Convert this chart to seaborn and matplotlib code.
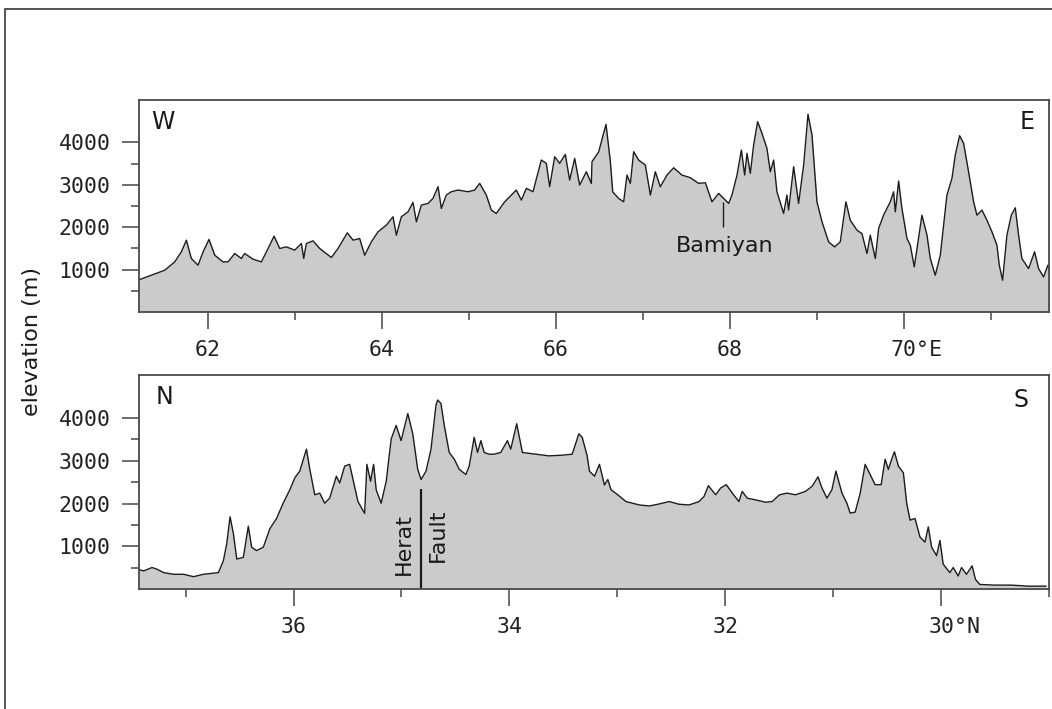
import matplotlib
matplotlib.use("Agg")
import matplotlib.pyplot as plt
import seaborn as sns
import pandas as pd

# W-E profile (longitude, elevation in m)
we_lon = [61.195, 61.349, 61.502, 61.617, 61.693, 61.751, 61.808, 61.885, 61.943, 62.011,
          62.077, 62.172, 62.230, 62.307, 62.383, 62.421, 62.517, 62.613, 62.690, 62.759,
          62.824, 62.900, 62.996, 63.073, 63.100, 63.130, 63.207, 63.284, 63.418, 63.494,
          63.601, 63.667, 63.743, 63.801, 63.877, 63.954, 64.050, 64.126, 64.165, 64.222,
          64.299, 64.356, 64.395, 64.452, 64.529, 64.586, 64.644, 64.682, 64.739, 64.797,
          64.874, 64.989, 65.065, 65.123, 65.199, 65.257, 65.314, 65.410, 65.544, 65.602,
          65.659, 65.736, 65.831, 65.889, 65.927, 65.985, 66.042, 66.107, 66.157, 66.215,
          66.272, 66.349, 66.406,
          66.414, 66.491, 66.575, 66.625, 66.652, 66.720, 66.778, 66.816, 66.855, 66.893,
          66.950, 67.027, 67.085, 67.142, 67.199, 67.276, 67.353, 67.448, 67.544, 67.640,
          67.717, 67.793, 67.870, 67.985, 68.023, 68.081, 68.131, 68.169, 68.196, 68.234,
          68.272, 68.318, 68.368, 68.425, 68.464, 68.502, 68.540, 68.617, 68.655, 68.674,
          68.732, 68.789, 68.847, 68.897, 68.943, 69.000, 69.058, 69.134, 69.203, 69.268,
          69.333, 69.383, 69.460, 69.517, 69.575, 69.613, 69.671, 69.709, 69.766, 69.843,
          69.881, 69.901, 69.939, 69.977, 70.035, 70.073, 70.119, 70.150, 70.207, 70.265,
          70.303, 70.360, 70.418, 70.494, 70.552, 70.590, 70.640, 70.686, 70.743, 70.801,
          70.839, 70.897, 70.954, 71.012, 71.069, 71.096, 71.134, 71.184, 71.234, 71.280,
          71.318, 71.356, 71.433, 71.502, 71.548, 71.605, 71.655, 71.682]
we_elev = [749, 867, 985, 1181, 1417, 1693, 1261, 1103, 1417, 1710,
           1339, 1181, 1181, 1379, 1261, 1379, 1245, 1181, 1497, 1788,
           1497, 1535, 1458, 1615, 1261, 1615, 1677, 1497, 1285, 1497,
           1866, 1693, 1732, 1339, 1654, 1890, 2048, 2244, 1811, 2244,
           2362, 2584, 2126, 2520, 2560, 2679, 2953, 2442, 2757, 2836,
           2875, 2836, 2875, 3033, 2757, 2402, 2324, 2598, 2875, 2638,
           2915, 2836, 3583, 3505, 2953, 3661, 3505, 3717, 3111, 3622,
           2993, 3307, 3033,
           3543, 3779, 4426, 3543, 2834, 2678, 2598, 3229, 3033, 3779,
           3583, 3465, 2757, 3307, 2953, 3229, 3401, 3229, 3166, 3033,
           3048, 2598, 2796, 2560, 2757, 3229, 3819, 3229, 3740, 3268,
           3937, 4488, 4213, 3858, 3307, 3583, 2834, 2324, 2757, 2403,
           3426, 2560, 3465, 4663, 4174, 2598, 2126, 1653, 1535, 1653,
           2598, 2165, 1929, 1850, 1378, 1810, 1260, 1968, 2283, 2598,
           2834, 2362, 3087, 2441, 1732, 1574, 1063, 1496, 2283, 1810,
           1260, 866, 1338, 2757, 3150, 3700, 4158, 3976, 3307, 2598,
           2283, 2402, 2165, 1889, 1574, 1102, 748, 1810, 2283, 2456,
           1810, 1260, 1023, 1417, 1023, 826, 1102, 944]

# N-S profile (latitude, elevation in m)
ns_lat = [37.450, 37.388, 37.311, 37.265, 37.203, 37.111, 37.019, 36.926, 36.834, 36.696,
          36.650, 36.619, 36.588, 36.557, 36.526, 36.465, 36.419, 36.388, 36.342, 36.280,
          36.219, 36.157, 36.096, 36.034, 35.988, 35.942, 35.880, 35.849, 35.803, 35.757,
          35.711, 35.665, 35.603, 35.572, 35.526, 35.480, 35.449, 35.403, 35.341, 35.320,
          35.286, 35.258, 35.234, 35.188, 35.141, 35.095, 35.049, 35.003, 34.941, 34.895,
          34.849, 34.818, 34.772, 34.726, 34.680, 34.664, 34.634, 34.603, 34.557, 34.510,
          34.464, 34.403, 34.372, 34.326, 34.295, 34.264, 34.233, 34.187, 34.141, 34.080,
          34.018, 33.987, 33.932, 33.879, 33.756, 33.633, 33.510, 33.418, 33.356, 33.325,
          33.279,
          33.258, 33.211, 33.165, 33.119, 33.088, 33.058, 32.996, 32.919, 32.796, 32.704,
          32.611, 32.519, 32.427, 32.334, 32.242, 32.196, 32.156, 32.088, 32.042, 31.990,
          31.934, 31.873, 31.842, 31.796, 31.719, 31.626, 31.565, 31.497, 31.426, 31.349,
          31.257, 31.195, 31.140, 31.103, 31.057, 31.011, 30.974, 30.918, 30.872, 30.842,
          30.795, 30.749, 30.703, 30.657, 30.611, 30.555, 30.518, 30.488, 30.457, 30.432,
          30.395, 30.349, 30.318, 30.287, 30.241, 30.195, 30.149, 30.118, 30.087, 30.041,
          30.010, 29.980, 29.918, 29.887, 29.841, 29.810, 29.764, 29.712, 29.681, 29.641,
          29.503, 29.349, 29.195, 29.026]
ns_elev = [466, 427, 506, 466, 387, 348, 348, 292, 348, 387,
           664, 1059, 1690, 1296, 704, 743, 1470, 980, 901, 980,
           1414, 1651, 2007, 2323, 2599, 2757, 3271, 2797, 2204, 2243,
           2007, 2125, 2638, 2480, 2875, 2915, 2560, 2046, 1770, 2915,
           2520, 2915, 2323, 2007, 2520, 3508, 3824, 3468, 4101, 3627,
           2797, 2560, 2757, 3271, 4298, 4417, 4338, 3824, 3192, 3034,
           2797, 2678, 2875, 3547, 3192, 3468, 3192, 3152, 3152, 3192,
           3468, 3271, 3863, 3192, 3152, 3113, 3129, 3152, 3627, 3547,
           3113,
           2757, 2638, 2915, 2433, 2560, 2323, 2204, 2046, 1967, 1943,
           1990, 2046, 1983, 1967, 2046, 2165, 2417, 2204, 2362, 2441,
           2243, 2046, 2283, 2125, 2086, 2030, 2046, 2204, 2243, 2204,
           2283, 2401, 2623, 2362, 2125, 2323, 2757, 2243, 2007, 1777,
           1800, 2243, 2915, 2678, 2440, 2440, 3034, 2797, 3034, 3208,
           2875, 2718, 2007, 1612, 1651, 1217, 1098, 1454, 980, 783,
           1138, 585, 387, 506, 308, 506, 348, 545, 229, 111,
           95, 95, 71, 71]

lon_ticks = [62, 64, 66, 68, 70]
lon_labels = ["62", "64", "66", "68", ""]
lat_ticks = [36, 34, 32, 30]
lat_labels = ["36", "34", "32", ""]
elev_ticks = [1000, 2000, 3000, 4000]

df_we = pd.DataFrame({"lon": we_lon, "elev": we_elev})
df_ns = pd.DataFrame({"lat": ns_lat, "elev": ns_elev})

sns.set_theme(style="ticks")
plt.rcParams["font.family"] = ["DejaVu Sans"]

fig = plt.figure(figsize=(10.52, 7.09), dpi=100)
ax1 = fig.add_axes([0.1317, 0.560, 0.8654, 0.299])
ax2 = fig.add_axes([0.1317, 0.169, 0.8654, 0.302])

fill_c = "#cbcbcb"
line_c = "#1c1c1c"
tick_font = {"family": "DejaVu Sans Mono", "size": 15.5}


def style_axis(ax):
    for s in ax.spines.values():
        s.set_color("#4a4a4a")
        s.set_linewidth(1.3)
    ax.tick_params(axis="both", which="major", direction="out", length=12, width=1.2,
                   color="#555555", pad=8, labelcolor="#222222")
    ax.tick_params(axis="both", which="minor", direction="out", length=6, width=1.2,
                   color="#555555")
    ax.set_yticks(elev_ticks)
    ax.set_yticks([500, 1500, 2500, 3500], minor=True)
    ax.set_yticklabels([str(v) for v in elev_ticks], fontdict=tick_font)
    ax.set_ylim(0, 5000)
    ax.set_xlabel("")
    ax.set_ylabel("")


# top: W-E
ax1.fill_between(df_we["lon"], 0, df_we["elev"], color=fill_c, lw=0)
sns.lineplot(data=df_we, x="lon", y="elev", ax=ax1, color=line_c, lw=1.0)
ax1.set_xlim(61.201, 71.667)
ax1.set_xticks(lon_ticks)
ax1.set_xticklabels(lon_labels, fontdict=tick_font)
ax1.set_xticks([63, 65, 67, 69, 71], minor=True)
style_axis(ax1)
ax1.annotate("70°E", xy=(70, 0), xycoords=("data", "axes fraction"),
             xytext=(-0.602 * 15.5, -20), textcoords="offset points",
             ha="left", va="top", color="#222222", **tick_font)
ax1.text(0.014, 0.955, "W", transform=ax1.transAxes, ha="left", va="top",
         fontsize=17, color="#1a1a1a")
ax1.text(0.984, 0.955, "E", transform=ax1.transAxes, ha="right", va="top",
         fontsize=17, color="#1a1a1a")
ax1.vlines(67.916, 2000, 2600, color=line_c, lw=1.0)
ax1.text(67.94, 1410, "Bamiyan", ha="center", va="baseline", fontsize=16,
         color="#1a1a1a")

# bottom: N-S
ax2.fill_between(df_ns["lat"], 0, df_ns["elev"], color=fill_c, lw=0)
sns.lineplot(data=df_ns, x="lat", y="elev", ax=ax2, color=line_c, lw=1.0)
ax2.set_xlim(37.436, 29.029)
ax2.set_xticks(lat_ticks)
ax2.set_xticklabels(lat_labels, fontdict=tick_font)
ax2.set_xticks([37, 35, 33, 31, 29], minor=True)
style_axis(ax2)
ax2.annotate("30°N", xy=(30, 0), xycoords=("data", "axes fraction"),
             xytext=(-0.602 * 15.5, -20), textcoords="offset points",
             ha="left", va="top", color="#222222", **tick_font)
ax2.text(0.019, 0.955, "N", transform=ax2.transAxes, ha="left", va="top",
         fontsize=17, color="#1a1a1a")
ax2.text(0.977, 0.94, "S", transform=ax2.transAxes, ha="right", va="top",
         fontsize=17, color="#1a1a1a")
ax2.vlines(34.815, 0, 2340, color=line_c, lw=1.6)
ax2.text(34.98, 1054, "Herat", rotation=90, ha="center", va="center",
         fontsize=16, color="#1a1a1a")
ax2.text(34.661, 1256, "Fault", rotation=90, ha="center", va="center",
         fontsize=16, color="#1a1a1a")

fig.text(0.030, 0.518, "elevation (m)", rotation=90, ha="center", va="center",
         fontsize=16, color="#1a1a1a")

# outer frame (only top and left edges visible in the picture)
fig.add_artist(plt.Line2D([0.005, 1.0], [0.987, 0.987], transform=fig.transFigure,
                          color="#333333", lw=1.2))
fig.add_artist(plt.Line2D([0.005, 0.005], [0.0, 0.987], transform=fig.transFigure,
                          color="#555555", lw=1.4))

fig.savefig("out.png", dpi=100)
